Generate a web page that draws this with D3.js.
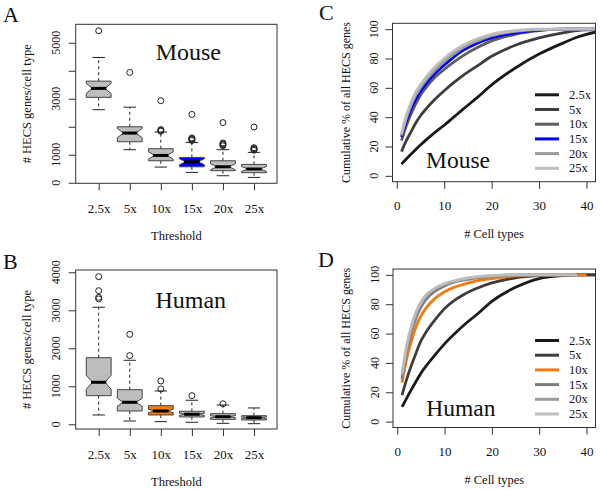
<!DOCTYPE html>
<html><head><meta charset="utf-8">
<script src="https://cdn.jsdelivr.net/npm/d3@7"></script>
<style>
body{margin:0;background:#fff}
svg{display:block}
text{font-family:"Liberation Serif","Times New Roman",serif;fill:#111}
</style>
</head><body>
<svg id="c" width="600" height="490"></svg>
<script>
// ---------------- DATA ----------------
const thresholds = ["2.5x","5x","10x","15x","20x","25x"];

// Panel A (mouse) box statistics per threshold
const mouseLow  = [2610, 1180, 560, 370, 250, 190];
const mouseQ1   = [3050, 1465, 785, 570, 430, 360];
const mouseMed  = [3370, 1775, 975, 750, 570, 490];
const mouseQ3   = [3630, 2000, 1215, 905, 785, 655];
const mouseHigh = [4475, 2700, 1810, 1440, 1180, 1085];
const mouseOut  = [[5430],[3940],[2930,1900,1870,1840],[2440,1600,1570,1540,1510],[2150,1420,1390,1360,1320],[1990,1250,1220,1190,1160]];
const mouseN = 26;

// Panel B (human) box statistics per threshold
const humanLow  = [245, 87, 70, 52, 25, 16];
const humanQ1   = [753, 350, 245, 193, 130, 113];
const humanMed  = [1105, 579, 350, 263, 200, 174];
const humanQ3   = [1753, 911, 491, 342, 280, 226];
const humanHigh = [3079, 1684, 877, 632, 508, 430];
const humanOut  = [[3884,3516,3340,3300],[2368,1807],[1140,930],[755],[540],[]];
const humanN = 74;

const mouseYTicks = [0,1000,2000,3000,4000,5000];
const mouseYLabels = [0,1000,3000,5000];
const humanYTicks = [0,1000,2000,3000,4000];
const humanYLabels = [0,1000,2000,3000,4000];

// Panels C/D cumulative curves
const cellX = [1,2,3,4,5,6,8,10,12,14,17,20,25,30,35,38,40,45];
const mouse_2_5x = [8,11.5,14.8,18,21,24,29.5,34.5,40,45.5,53.5,62,73.5,83,90.5,94.5,96.5,100];
const mouse_5x   = [16.5,24,30,36,41,45,52,58,63.5,68.5,75,81.5,89,94,97.5,99,99.5,100];
const mouse_10x  = [24,34,42,49,55,59.5,67,72.5,77.5,82,87.5,92,96.5,99,100,100,100,100];
const mouse_15x  = [26.5,37,45.5,52,57.5,62,69.5,75.5,81,85.5,90.5,94,97.5,99.3,100,100,100,100];
const mouse_20x  = [27.5,39,48,55,60,64.5,72,78,83,87.5,92,95.5,98.5,99.7,100,100,100,100];
const mouse_25x  = [29,41,50,57,62,66.5,74,80,85,89,93.5,96.5,99,100,100,100,100,100];

const human_2_5x = [10,16,22,27.5,33,37.5,45.5,53,59.5,65.5,73.5,82,91.5,97.5,99.5,100,100,100];
const human_5x   = [18,29,38.5,47,55,60.5,69.5,77,82.5,86.5,91,94.5,98,99.5,100,100,100,100];
const human_10x  = [26.5,43,55,65,72,77,84,88.5,91.5,93.5,96,97.5,99.3,100,100,100,100,null];
const human_15x  = [29,48,61,71,78,83,89,92.5,95,96.5,98,99,99.8,100,100,100,null,null];
const human_20x  = [31,50,63.5,73.5,80,85,90.5,93.5,95.5,97,98.5,99.3,100,100,100,100,null,null];
const human_25x  = [33,52,65.5,75,81.5,86,91,94,96,97.5,98.8,99.5,100,100,100,100,null,null];

const cellTicks = [0,10,20,30,40];
const pctTicks = [0,20,40,60,80,100];

// ---------------- DRAW ----------------
const svg = d3.select("#c");
const grays = ["#1a1a1a","#3d3d3d","#5e5e5e","#7c7c7c","#9a9a9a","#bdbdbd"];

function panelLetter(t, x, y){
  svg.append("text").attr("x",x).attr("y",y).attr("font-size",22).text(t);
}

function boxPanel(o){
  const {x0,x1,y0,y1} = o.frame;
  const g = svg.append("g");
  const x = d3.scaleLinear().domain([0.26, 6.74]).range([x0, x1]);
  const y = d3.scaleLinear().domain(o.yDomain).range([y1, y0]);
  const bw = (x(1.4) - x(1)); // half box width (boxwex 0.8)
  const stats = thresholds.map((t,i)=>({
    t, i, lo:o.low[i], q1:o.q1[i], med:o.med[i], q3:o.q3[i], hi:o.high[i], out:o.out[i]
  }));
  stats.forEach(s=>{
    const cx = x(s.i+1);
    const nh = 1.58*(s.q3 - s.q1)/Math.sqrt(o.n);
    const nl = s.med - nh, nu = s.med + nh;
    // whiskers dashed
    g.append("line").attr("x1",cx).attr("x2",cx).attr("y1",y(s.q3)).attr("y2",y(s.hi))
      .attr("stroke","#222").attr("stroke-dasharray","3,3");
    g.append("line").attr("x1",cx).attr("x2",cx).attr("y1",y(s.q1)).attr("y2",y(s.lo))
      .attr("stroke","#222").attr("stroke-dasharray","3,3");
    // caps
    [s.hi, s.lo].forEach(v=>g.append("line").attr("x1",cx-bw/2).attr("x2",cx+bw/2)
      .attr("y1",y(v)).attr("y2",y(v)).attr("stroke","#222"));
    // notched box
    const pts = [[cx-bw,s.q1],[cx+bw,s.q1],[cx+bw,nl],[cx+bw*0.5,s.med],[cx+bw,nu],[cx+bw,s.q3],
                 [cx-bw,s.q3],[cx-bw,nu],[cx-bw*0.5,s.med],[cx-bw,nl]];
    g.append("path").attr("d", d3.line().x(p=>p[0]).y(p=>y(p[1]))(pts)+"Z")
      .attr("fill", s.i===o.hl ? o.hlColor : "#bdbdbd").attr("stroke","#444").attr("stroke-width",1);
    g.append("line").attr("x1",cx-bw*0.62).attr("x2",cx+bw*0.62).attr("y1",y(s.med)).attr("y2",y(s.med))
      .attr("stroke","#000").attr("stroke-width",3);
    s.out.forEach(v=>g.append("circle").attr("cx",cx).attr("cy",y(v)).attr("r",3)
      .attr("fill","none").attr("stroke","#222").attr("stroke-width",1));
  });
  // frame
  g.append("rect").attr("x",x0).attr("y",y0).attr("width",x1-x0).attr("height",y1-y0)
    .attr("fill","none").attr("stroke","#333");
  // x axis
  const ax = g.append("g").attr("transform",`translate(0,${y1})`)
    .call(d3.axisBottom(x).tickValues(d3.range(1,7)).tickFormat(i=>thresholds[i-1]).tickSize(7).tickPadding(13.5));
  ax.select(".domain").remove();
  ax.selectAll("line").attr("stroke","#333");
  ax.selectAll("text").attr("font-size",13).attr("font-family",'"Liberation Serif",serif').attr("fill","#111");
  // y axis
  const ay = g.append("g").attr("transform",`translate(${x0},0)`)
    .call(d3.axisLeft(y).tickValues(o.yTicks).tickSize(7).tickFormat(""));
  ay.select(".domain").remove();
  ay.selectAll("line").attr("stroke","#333");
  o.yLabels.forEach(v=>{
    g.append("text").attr("transform",`translate(${x0-16},${y(v)}) rotate(-90)`)
      .attr("text-anchor","middle").attr("font-size",12).text(v);
  });
  // titles
  g.append("text").attr("x",(x0+x1)/2).attr("y",y1+57).attr("text-anchor","middle").attr("font-size",12.5).text("Threshold");
  g.append("text").attr("transform",`translate(${x0-45},${(y0+y1)/2}) rotate(-90)`)
    .attr("text-anchor","middle").attr("font-size",12.5).text("# HECS genes/cell type");
  g.append("text").attr("x",o.label.x).attr("y",o.label.y).attr("text-anchor","middle")
    .attr("font-size",24).text(o.label.t);
}

function curvePanel(o){
  const {x0,x1,y0,y1} = o.frame;
  const g = svg.append("g");
  const x = d3.scaleLinear().domain([-0.9, 41.9]).range([x0, x1]);
  const y = d3.scaleLinear().domain([-4, 104]).range([y1, y0]);
  const cid = "clip"+o.id;
  svg.append("clipPath").attr("id",cid).append("rect").attr("x",x0).attr("y",y0).attr("width",x1-x0).attr("height",y1-y0);
  const line = d3.line().defined(d=>d[1]!=null).x(d=>x(d[0])).y(d=>y(d[1])).curve(d3.curveMonotoneX);
  const cols = grays.slice(); cols[o.hl] = o.hlColor;
  const lg = g.append("g").attr("clip-path",`url(#${cid})`);
  o.series.forEach((s,i)=>{
    lg.append("path").attr("d", line(cellX.map((c,j)=>[c,s[j]])))
      .attr("fill","none").attr("stroke",cols[i]).attr("stroke-width",2.8).attr("stroke-linejoin","round");
  });
  g.append("rect").attr("x",x0).attr("y",y0).attr("width",x1-x0).attr("height",y1-y0)
    .attr("fill","none").attr("stroke","#333");
  const ax = g.append("g").attr("transform",`translate(0,${y1})`)
    .call(d3.axisBottom(x).tickValues(cellTicks).tickSize(7).tickPadding(12.5));
  ax.select(".domain").remove();
  ax.selectAll("line").attr("stroke","#333");
  ax.selectAll("text").attr("font-size",13).attr("font-family",'"Liberation Serif",serif').attr("fill","#111");
  const ay = g.append("g").attr("transform",`translate(${x0},0)`)
    .call(d3.axisLeft(y).tickValues(pctTicks).tickSize(7).tickFormat(""));
  ay.select(".domain").remove();
  ay.selectAll("line").attr("stroke","#333");
  pctTicks.forEach(v=>{
    g.append("text").attr("transform",`translate(${x0-14.5},${y(v)}) rotate(-90)`)
      .attr("text-anchor","middle").attr("font-size",12).text(v);
  });
  g.append("text").attr("x",(x0+x1)/2).attr("y",y1+56.5).attr("text-anchor","middle").attr("font-size",12.5).text("# Cell types");
  g.append("text").attr("transform",`translate(${x0-43},${(y0+y1)/2}) rotate(-90)`)
    .attr("text-anchor","middle").attr("font-size",12).text("Cumulative % of all HECS genes");
  // legend
  thresholds.forEach((t,i)=>{
    const ly = y0 + 71.5 + i*14.7;
    g.append("line").attr("x1",535).attr("x2",559).attr("y1",ly).attr("y2",ly)
      .attr("stroke",cols[i]).attr("stroke-width",3);
    g.append("text").attr("x",569).attr("y",ly+4).attr("font-size",12.5).text(t);
  });
  g.append("text").attr("x",o.label.x).attr("y",o.label.y).attr("text-anchor","middle")
    .attr("font-size",23.5).text(o.label.t);
}

boxPanel({frame:{x0:75.7,x1:277,y0:24.3,y1:183.3}, yDomain:[-20,5660],
  low:mouseLow,q1:mouseQ1,med:mouseMed,q3:mouseQ3,high:mouseHigh,out:mouseOut,n:mouseN,
  yTicks:mouseYTicks,yLabels:mouseYLabels,hl:3,hlColor:"#0000ff",label:{t:"Mouse",x:188.3,y:60}});
boxPanel({frame:{x0:75.7,x1:277,y0:270,y1:429}, yDomain:[-124,4060],
  low:humanLow,q1:humanQ1,med:humanMed,q3:humanQ3,high:humanHigh,out:humanOut,n:humanN,
  yTicks:humanYTicks,yLabels:humanYLabels,hl:2,hlColor:"#f47b0f",label:{t:"Human",x:190.8,y:308.3}});
curvePanel({id:"C",frame:{x0:392.5,x1:595.5,y0:23.3,y1:181.7},
  series:[mouse_2_5x,mouse_5x,mouse_10x,mouse_15x,mouse_20x,mouse_25x],hl:3,hlColor:"#0000ff",
  label:{t:"Mouse",x:458,y:167.7}});
curvePanel({id:"D",frame:{x0:393,x1:595.5,y0:269,y1:427.5},
  series:[human_2_5x,human_5x,human_10x,human_15x,human_20x,human_25x],hl:2,hlColor:"#f47b0f",
  label:{t:"Human",x:460.8,y:416}});

panelLetter("A",3,22);
panelLetter("B",3,269);
panelLetter("C",319,20);
panelLetter("D",318,267);
</script>
</body></html>
